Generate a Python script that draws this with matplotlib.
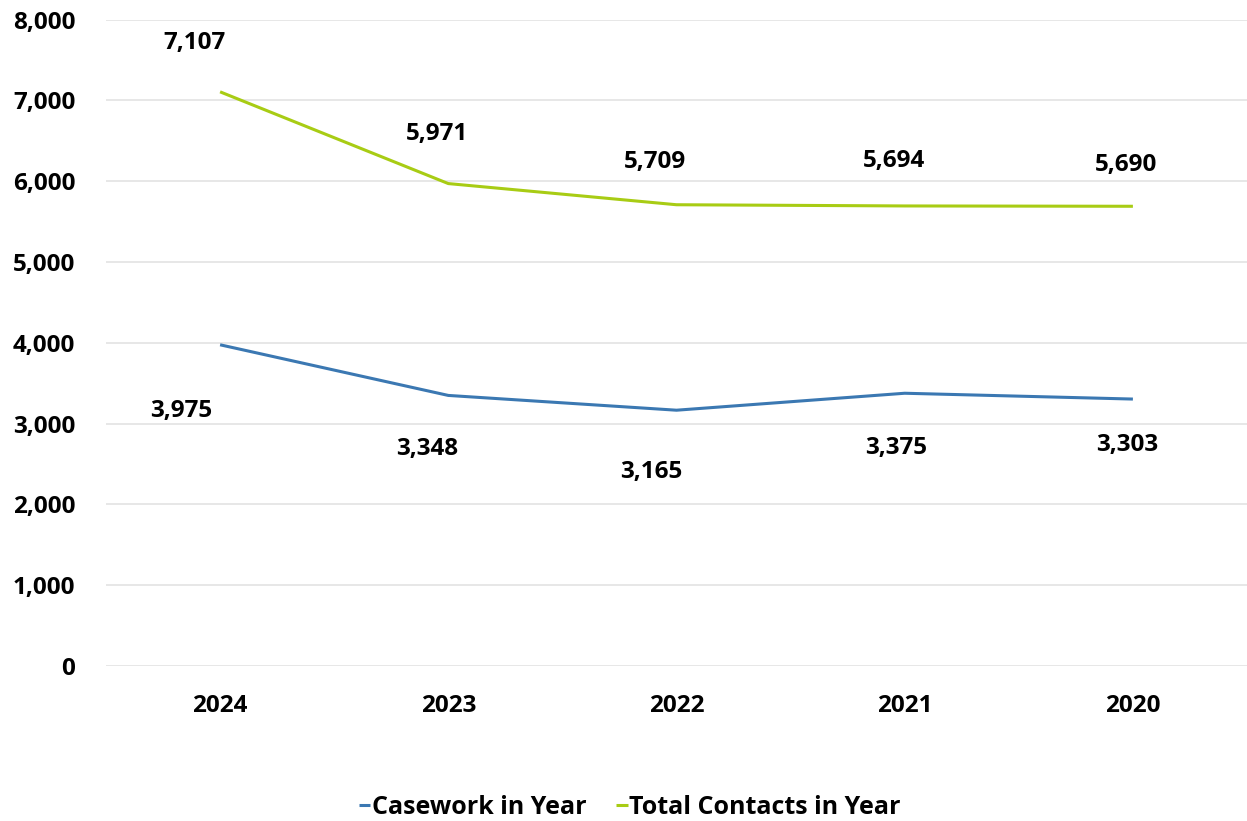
"""Casework vs total contacts, 2024 back to 2020."""
import matplotlib
matplotlib.use("Agg")
import matplotlib.pyplot as plt
import matplotlib.ticker as tkr

plt.rcParams['font.family'] = ['Open Sans', 'DejaVu Sans']
plt.rcParams['font.weight'] = 'bold'

years = ["2024", "2023", "2022", "2021", "2020"]
casework = [3975, 3348, 3165, 3375, 3303]
contacts = [7107, 5971, 5709, 5694, 5690]

c_blue = "#3B78B2"
c_green = "#A8CC14"
fs = 17.5

fig = plt.figure(figsize=(12.47, 8.21), dpi=100)
ax = fig.add_axes([0.085, 0.189, 0.915, 0.787])

x = range(len(years))
ax.plot(x, casework, color=c_blue, lw=2.2, label="Casework in Year", solid_capstyle='butt')
ax.plot(x, contacts, color=c_green, lw=2.2, label="Total Contacts in Year", solid_capstyle='butt')

# label offsets in pixels (dx, dy)
blue_off = [(-39, -66), (-21, -54), (-25, -62), (-9, -55), (-6, -46)]
green_off = [(-26, 49), (-11, 50), (-21, 43), (-11, 45), (-7, 41)]
for i, v in enumerate(casework):
    ax.annotate(f"{v:,}", (i, v), xytext=blue_off[i], textcoords='offset pixels',
                ha='center', va='center', fontsize=fs, fontweight='bold')
for i, v in enumerate(contacts):
    ax.annotate(f"{v:,}", (i, v), xytext=green_off[i], textcoords='offset pixels',
                ha='center', va='center', fontsize=fs, fontweight='bold')

ax.set_xlim(-0.5, len(years) - 0.5)
ax.set_ylim(0, 8000)
ax.set_xticks(list(x))
ax.set_xticklabels(years)
ax.yaxis.set_major_locator(tkr.MultipleLocator(1000))
ax.yaxis.set_major_formatter(tkr.FuncFormatter(lambda v, p: f"{int(v):,}"))
ax.grid(axis='y', color='#E3E3E3', lw=1.2)
ax.set_axisbelow(True)
for s in ax.spines.values():
    s.set_visible(False)
ax.tick_params(length=0, labelsize=fs)
ax.tick_params(axis='x', pad=20)
ax.tick_params(axis='y', pad=22)

fig.legend(loc='lower center', bbox_to_anchor=(0.505, -0.026), ncol=2, frameon=False,
           fontsize=18, handlelength=0.45, handletextpad=0.05, columnspacing=1.2)

fig.savefig("out.png", dpi=100)
